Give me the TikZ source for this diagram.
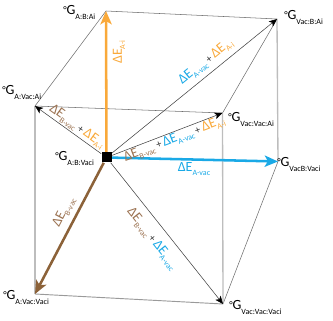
\documentclass[tikz,border=0pt]{standalone}
\usepackage{fontspec}
\setmainfont{Carlito}
\usetikzlibrary{arrows.meta}
\definecolor{org}{HTML}{F9A93A}
\definecolor{blu}{HTML}{1AA9E6}
\definecolor{brn}{HTML}{8C6239}
\definecolor{brt}{HTML}{9B7251}
\definecolor{edgegray}{HTML}{6E6E6E}
\definecolor{vgray}{HTML}{BDBDBD}
\definecolor{bgray}{HTML}{9A9A9A}
\newcommand{\Gv}[1]{\raisebox{1.2pt}{\fontsize{7.5}{7.5}\selectfont °}G\raisebox{-3.4pt}{\fontsize{6}{6}\selectfont #1}}
\newcommand{\dE}[2]{{\color{#1}ΔE\raisebox{-2.6pt}{\fontsize{6}{6}\selectfont #2}}}
\newcommand{\pl}{\hspace{1.5pt}{\color{black!80}\fontsize{8}{8}\selectfont+}\hspace{1.5pt}}
\begin{document}
\begin{tikzpicture}[x=0.75pt,y=-0.75pt,
  vlab/.style={anchor=base west, inner sep=0pt, font=\fontsize{10.5}{12}\selectfont, text=black},
  elab/.style={inner sep=0pt, font=\fontsize{10.5}{12}\selectfont},
  thinedge/.style={draw=edgegray, line width=0.4pt},
  botedge/.style={draw=bgray, line width=0.7pt},
  vedge/.style={draw=vgray, line width=1pt},
  thinarrow/.style={draw=black!75, line width=0.4pt, -{Stealth[length=6pt,width=5pt,inset=1.5pt,fill=black,color=black]}},
  bigarrow/.style={line width=1.9pt, -{Stealth[length=10pt,width=8.5pt,inset=2.5pt]}},
]
\useasboundingbox (0,0) rectangle (333,321);
\coordinate (ABAi) at (106,11);
\coordinate (AVacAi) at (35,106);
\coordinate (VacBAi) at (277,19);
\coordinate (VacVacAi) at (222.5,113);
\coordinate (VacBVaci) at (278,161.5);
\coordinate (AVacVaci) at (35,294);
\coordinate (VacVacVaci) at (223,304);
\node[fill=black, minimum size=7.5pt, inner sep=0pt] (ABVaci) at (106.5,157.5) {};
% cube edges
\draw[thinedge] (ABAi) -- (VacBAi);
\draw[thinedge] (ABAi) -- (AVacAi);
\draw[thinedge] (AVacAi) -- (VacVacAi);
\draw[thinedge] (VacVacAi) -- (VacBAi);
\draw[thinedge] (VacVacVaci) -- (VacBVaci);
\draw[botedge] (AVacVaci) -- (VacVacVaci);
\draw[vedge] (AVacAi) -- (AVacVaci);
\draw[vedge] (VacVacAi) -- (VacVacVaci);
\draw[vedge] (VacBAi) -- (VacBVaci);
% thin arrows
\draw[thinarrow] (ABVaci) -- (AVacAi);
\draw[thinarrow] (ABVaci) -- (VacVacAi);
\draw[thinarrow] (ABVaci) -- (VacBAi);
\draw[thinarrow] (ABVaci) -- (VacVacVaci);
% thick arrows
\draw[bigarrow, org] (ABVaci) -- (ABAi);
\draw[bigarrow, blu] (ABVaci) -- (VacBVaci);
\draw[bigarrow, brn] (ABVaci) -- (AVacVaci);
\node[fill=black, minimum size=7.5pt, inner sep=0pt] at (ABVaci) {};
% arrow labels
\node[elab, rotate=90] (lAi) at (119,52) {\dE{org}{A-i}};
\node[elab] (lAvac) at (194,169) {\dE{blu}{A-vac}};
\node[elab, rotate=62.6] (lBvac) at (64,212) {\dE{brt}{B-vac}};
\node[elab, rotate=-35.7] (l1) at (77,127) {\dE{brt}{B-vac}\pl\dE{org}{A-i}};
\node[elab, rotate=20.8] (l2) at (174.5,139.5) {\dE{brt}{B-vac}\pl\dE{blu}{A-vac}\pl\dE{org}{A-i}};
\node[elab, rotate=38.9] (l3) at (206,62) {\dE{blu}{A-vac}\pl\dE{org}{A-i}};
\node[elab, rotate=-51.5] (l4) at (152,239) {\dE{brt}{B-vac}\pl\dE{blu}{A-vac}};
% vertex labels
\node[vlab] (tABAi) at (63,15) {\Gv{A:B:Ai}};
\node[vlab] (tAVacAi) at (2,95) {\Gv{A:Vac:Ai}};
\node[vlab] (tVacBAi) at (284,20) {\Gv{Vac:B:Ai}};
\node[vlab] (tVacVacAi) at (228,122) {\Gv{Vac:Vac:Ai}};
\node[vlab] (tABVaci) at (55,161) {\Gv{A:B:Vaci}};
\node[vlab] (tVacBVaci) at (277,167) {\Gv{VacB:Vaci}};
\node[vlab] (tAVacVaci) at (3,300) {\Gv{A:Vac:Vaci}};
\node[vlab] (tVacVacVaci) at (229,310) {\Gv{Vac:Vac:Vaci}};
\end{tikzpicture}
\end{document}
